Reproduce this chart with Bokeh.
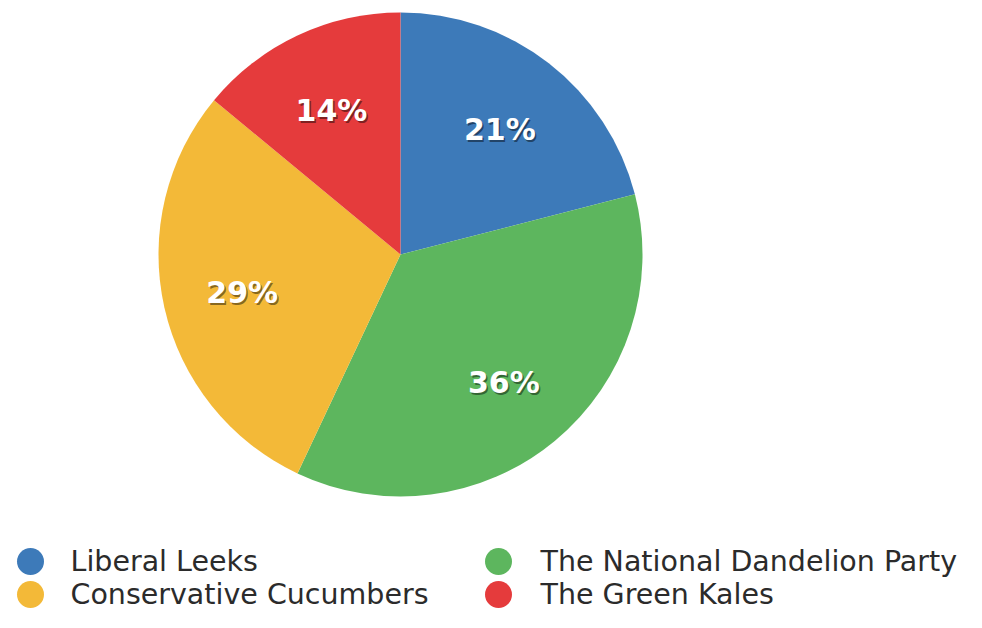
import math
from bokeh.plotting import figure
from bokeh.models import Range1d, ColumnDataSource
from bokeh.core.properties import value
from bokeh.embed import file_html
from bokeh.resources import INLINE

# ---- data ----
parties = ["Liberal Leeks", "The National Dandelion Party",
           "Conservative Cucumbers", "The Green Kales"]
shares = [21, 36, 29, 14]
colors = ["#3D7AB9", "#5DB65E", "#F3B938", "#E53B3C"]

# ---- layout (pixel coordinates, y measured from top) ----
W, H = 966, 612
cx, cy_px, R = 400, 254, 242


def Y(ypx):
    return H - ypx


p = figure(width=W, height=H, x_range=Range1d(0, W), y_range=Range1d(0, H),
           output_backend="svg", toolbar_location=None, min_border=0)
p.axis.visible = False
p.grid.visible = False
p.outline_line_color = None
p.background_fill_color = "white"

total = float(sum(shares))
starts, ends, lx, ly, labels = [], [], [], [], []
cum = 0.0
for s in shares:
    a0 = math.pi / 2 - 2 * math.pi * cum / total
    cum += s
    a1 = math.pi / 2 - 2 * math.pi * cum / total
    starts.append(a0)
    ends.append(a1)
    mid = (a0 + a1) / 2
    lx.append(cx + 0.67 * R * math.cos(mid))
    ly.append(Y(cy_px) + 0.67 * R * math.sin(mid) - 3)
    labels.append(f"{round(100 * s / total)}%")

src = ColumnDataSource(dict(start=starts, end=ends, color=colors, lx=lx, ly=ly, label=labels))
p.wedge(x=cx, y=Y(cy_px), radius=R, start_angle="start", end_angle="end",
        direction="clock", fill_color="color", line_color=None, source=src)

# percentage labels with soft shadow
p.text(x="lx", y="ly", text="label", source=src, text_font=value("DejaVu Sans"),
       text_font_style="bold", text_font_size="30px", text_color="#000000", text_alpha=0.45,
       text_align="center", text_baseline="middle", x_offset=1.5, y_offset=2)
p.text(x="lx", y="ly", text="label", source=src, text_font=value("DejaVu Sans"),
       text_font_style="bold", text_font_size="30px", text_color="#FFFFFF",
       text_align="center", text_baseline="middle")

# legend (2 columns, row-major)
col_marker_x = [30, 498]
col_text_x = [70, 540]
row_y = [561, 594]
mx, my, tx, ty = [], [], [], []
for i in range(len(parties)):
    c, r = i % 2, i // 2
    mx.append(col_marker_x[c])
    my.append(Y(row_y[r]))
    tx.append(col_text_x[c])
    ty.append(Y(row_y[r]))
lsrc = ColumnDataSource(dict(mx=mx, my=my, tx=tx, ty=ty, name=parties, color=colors))
p.scatter(x="mx", y="my", size=27, marker="circle", fill_color="color", line_color=None, source=lsrc)
p.text(x="tx", y="ty", text="name", source=lsrc, text_font=value("DejaVu Sans"),
       text_font_size="28.5px", text_color="#2B2B2B", text_align="left", text_baseline="middle")

open("out.html", "w").write(file_html(p, INLINE))
